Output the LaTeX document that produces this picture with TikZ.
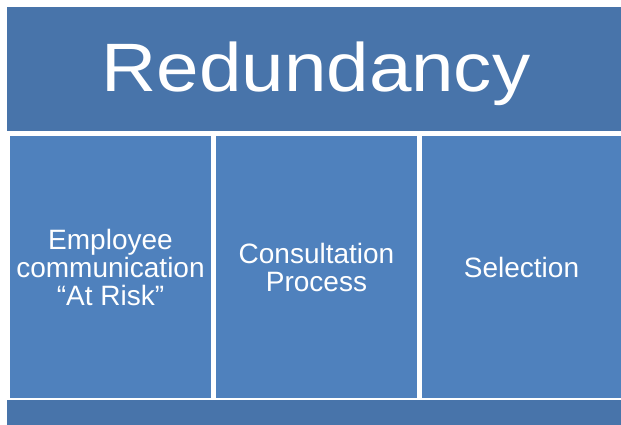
\documentclass[tikz,border=0pt]{standalone}
\usepackage{graphicx}
\usepackage{fontspec}
\setmainfont{Liberation Sans}
\definecolor{topblue}{HTML}{4874AA}
\definecolor{colblue}{HTML}{4F81BD}
\begin{document}
\begin{tikzpicture}[x=1pt,y=-1pt,
  bar/.style={fill=topblue,draw=none,inner sep=0pt},
  col/.style={fill=colblue,draw=none,inner sep=0pt,text=white,align=center,
    font=\fontsize{28}{28}\selectfont}]
\useasboundingbox (0,0) rectangle (621,425);
\fill[white] (0,0) rectangle (621,425);
\node[bar,minimum width=614pt,minimum height=124pt] (title) at (314,69) {};
\node[anchor=base,inner sep=0pt,text=white,font=\fontsize{68.5}{70}\selectfont] (titletext) at (316,92) {\scalebox{1.115}[1]{Redundancy}};
\node[col,minimum width=201pt,minimum height=262pt] (c1) at (110.5,267) {Employee\\communication\\“At Risk”};
\node[col,minimum width=201pt,minimum height=262pt] (c2) at (316.5,267) {Consultation\\Process};
\node[col,minimum width=199pt,minimum height=262pt] (c3) at (521.5,267) {Selection};
\node[bar,minimum width=614pt,minimum height=25pt] (base) at (314,412.5) {};
\end{tikzpicture}
\end{document}
